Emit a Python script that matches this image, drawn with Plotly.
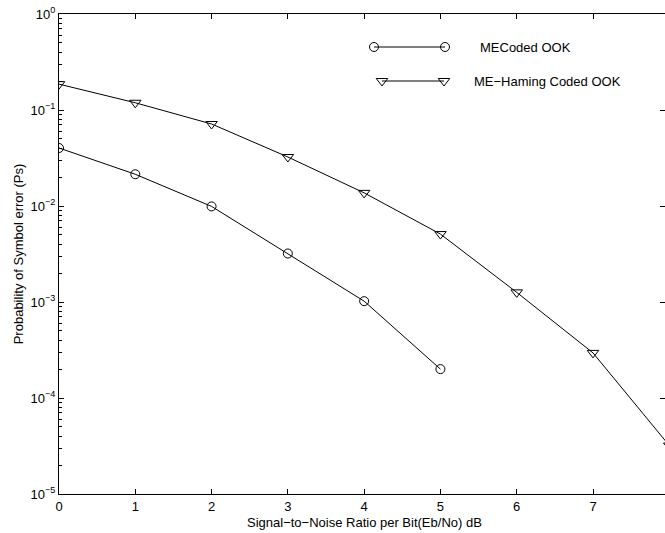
import plotly.graph_objects as go

snr_db = [0, 1, 2, 3, 4, 5]
ps_me_coded = [0.0402, 0.0214, 0.0099, 0.0032, 0.00102, 0.000200]

snr_db_ham = [0, 1, 2, 3, 4, 5, 6, 7, 8]
ps_me_hamming = [0.186, 0.119, 0.0715, 0.0324, 0.0137, 0.0051, 0.00126, 0.000295, 0.000032]

x_ticks = [0, 1, 2, 3, 4, 5, 6, 7]
y_exponents = [0, -1, -2, -3, -4, -5]

series_names = ["MECoded OOK", "ME\u2212Haming Coded OOK"]

FONT = "Liberation Sans, Arial, Helvetica, sans-serif"
FS = 13
W, H = 665, 533
L, T, B = 59, 14, 39
px_per_unit = (593 - 59) / 7.0
xmax = (W - L) / px_per_unit

minor_vals = [m * 10 ** e for e in range(-5, 0) for m in range(2, 10)]
major_vals = [10 ** e for e in y_exponents]

fig = go.Figure()
fig.add_trace(go.Scatter(
    x=snr_db, y=ps_me_coded, mode="lines+markers",
    line=dict(color="black", width=1),
    marker=dict(symbol="circle-open", size=9, color="black", line=dict(width=1)),
    showlegend=False))
fig.add_trace(go.Scatter(
    x=snr_db_ham, y=ps_me_hamming, mode="lines+markers",
    line=dict(color="black", width=1),
    marker=dict(symbol="triangle-down-open", size=10, color="black", line=dict(width=1)),
    showlegend=False))

# manual legend (pixel-like coordinates on overlay axes)
leg = [
    dict(x0=374, x1=445, y=47, tx=478, sym="circle-open", size=9),
    dict(x0=382, x1=444, y=81, tx=472, sym="triangle-down-open", size=10),
]
for item, name in zip(leg, series_names):
    fig.add_trace(go.Scatter(
        x=[item["x0"], item["x1"]], y=[item["y"], item["y"]],
        xaxis="x2", yaxis="y2", mode="lines+markers",
        line=dict(color="black", width=1),
        marker=dict(symbol=item["sym"], size=item["size"], color="black", line=dict(width=1)),
        showlegend=False, hoverinfo="skip"))
    fig.add_annotation(x=item["tx"], y=item["y"], xref="x2", yref="y2",
                       text=name, showarrow=False, xanchor="left", yanchor="middle",
                       font=dict(family=FONT, size=FS, color="black"))

# invisible traces to carry the tick-only axes
fig.add_trace(go.Scatter(x=[0.5], y=[0.5], xaxis="x", yaxis="y3", mode="markers",
                         marker=dict(opacity=0), showlegend=False, hoverinfo="skip"))
fig.add_trace(go.Scatter(x=[0.5], y=[0.5], xaxis="x", yaxis="y4", mode="markers",
                         marker=dict(opacity=0), showlegend=False, hoverinfo="skip"))

fig.update_layout(
    width=W, height=H,
    margin=dict(l=L, r=0, t=T, b=B),
    paper_bgcolor="white", plot_bgcolor="white",
    font=dict(family=FONT, size=FS, color="black"),
    xaxis=dict(
        range=[0, xmax], tickvals=x_ticks, ticktext=[str(v) for v in x_ticks],
        ticks="inside", ticklen=5, tickcolor="black", tickwidth=1,
        showline=True, linecolor="black", linewidth=1, mirror="ticks",
        showgrid=False, zeroline=False,
        tickfont=dict(family=FONT, size=FS, color="black"),
    ),
    yaxis=dict(
        type="log", range=[-5, 0],
        tickvals=major_vals,
        ticktext=["10<sup>%s</sup>" % (str(e).replace("-", "\u2212")) for e in y_exponents],
        ticks="inside", ticklen=5, tickcolor="black", tickwidth=1,
        showline=True, linecolor="black", linewidth=1,
        showgrid=False, zeroline=False,
        tickfont=dict(family=FONT, size=FS, color="black"),
        title=dict(text="Probability of Symbol error (Ps)", standoff=4,
                   font=dict(family=FONT, size=FS, color="black")),
    ),
    yaxis3=dict(
        type="log", range=[-5, 0], overlaying="y", side="left",
        tickvals=minor_vals, showticklabels=False,
        ticks="inside", ticklen=3, tickcolor="black", tickwidth=1,
        showline=False, showgrid=False, zeroline=False, fixedrange=True,
    ),
    yaxis4=dict(
        type="log", range=[-5, 0], overlaying="y", side="right",
        tickvals=major_vals, showticklabels=False,
        ticks="inside", ticklen=5, tickcolor="black", tickwidth=1,
        showline=False, showgrid=False, zeroline=False, fixedrange=True,
    ),
    xaxis2=dict(overlaying="x", range=[L, W], visible=False, fixedrange=True),
    yaxis2=dict(overlaying="y", range=[H - B, T], visible=False, fixedrange=True),
)

fig.add_annotation(x=(364 - L) / (W - L), y=-((522 - (H - B)) / (H - B - T)),
                   xref="paper", yref="paper",
                   text="Signal\u2212to\u2212Noise Ratio per Bit(Eb/No) dB",
                   showarrow=False, xanchor="center", yanchor="middle",
                   font=dict(family=FONT, size=FS, color="black"))

fig.write_html("out.html")
